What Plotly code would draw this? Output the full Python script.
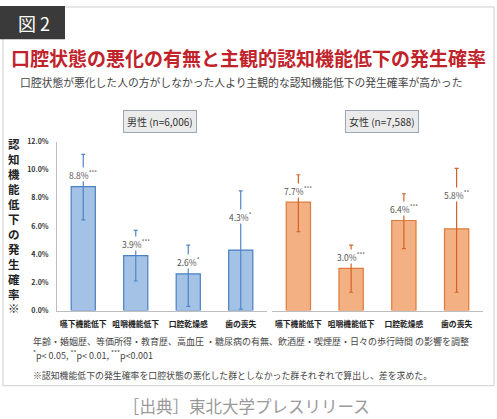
import plotly.graph_objects as go

# ---------------- data ----------------
categories = ["嚥下機能低下", "咀嚼機能低下", "口腔乾燥感", "歯の喪失"]
male_values = [8.8, 3.9, 2.6, 4.3]
male_upper = [11.1, 5.7, 4.65, 8.5]
male_lower = [6.45, 2.1, 0.3, 0.1]
male_sig = ["***", "***", "*", "*"]
female_values = [7.7, 3.0, 6.4, 5.8]
female_upper = [9.65, 4.65, 8.3, 10.1]
female_lower = [5.6, 1.3, 4.4, 1.3]
female_sig = ["***", "***", "***", "**"]
y_ticks = [0, 2, 4, 6, 8, 10, 12]
y_tick_labels = ["0.0%", "2.0%", "4.0%", "6.0%", "8.0%", "10.0%", "12.0%"]
male_label = "男性 (n=6,006)"
female_label = "女性 (n=7,588)"
y_title = "認知機能低下の発生確率※"
fig_no = "図 2"
title = "口腔状態の悪化の有無と主観的認知機能低下の発生確率"
subtitle = "口腔状態が悪化した人の方がしなかった人より主観的な認知機能低下の発生確率が高かった"
note1 = "年齢・婚姻歴、等価所得・教育歴、高血圧 ・糖尿病の有無、飲酒歴・喫煙歴・日々の歩行時間 の影響を調整"
note2 = "<sup>*</sup>p< 0.05, <sup>**</sup>p< 0.01, <sup>***</sup>p<0.001"
note3 = "※認知機能低下の発生確率を口腔状態の悪化した群としなかった群それぞれで算出し、差を求めた。"
source = "［出典］東北大学プレスリリース"
label_shift = [12, 12, 12, 34]

# ---------------- style ----------------
W, H = 497, 419
FONT = "Noto Sans CJK JP"


def px(x):
    return x / W


def py(y):
    return 1 - y / H


def note(x, y, text, size, color, xanchor="center", weight="normal", **kw):
    d = dict(x=px(x), y=py(y), xref="paper", yref="paper", xanchor=xanchor,
             yanchor="middle", text=text, showarrow=False,
             font=dict(family=FONT, size=size, color=color, weight=weight))
    d.update(kw)
    return d


fig = go.Figure()

fig.add_trace(go.Bar(
    x=categories, y=male_values, xaxis="x", yaxis="y", width=0.46,
    marker=dict(color="#a3c2e6", line=dict(color="#4a7fc0", width=1.2)),
    error_y=dict(type="data", symmetric=False,
                 array=[u - v for u, v in zip(male_upper, male_values)],
                 arrayminus=[v - l for v, l in zip(male_values, male_lower)],
                 color="#4f86c6", thickness=1.2, width=2),
    hoverinfo="skip", showlegend=False))

fig.add_trace(go.Bar(
    x=categories, y=female_values, xaxis="x2", yaxis="y2", width=0.46,
    marker=dict(color="#f2b083", line=dict(color="#dd7a3c", width=1.2)),
    error_y=dict(type="data", symmetric=False,
                 array=[u - v for u, v in zip(female_upper, female_values)],
                 arrayminus=[v - l for v, l in zip(female_values, female_lower)],
                 color="#d4622a", thickness=1.2, width=2),
    hoverinfo="skip", showlegend=False))

annotations = []
for cat, v, s, sh in zip(categories, male_values, male_sig, label_shift):
    annotations.append(dict(x=cat, y=v, xref="x", yref="y", yshift=sh,
                            xanchor="center", yanchor="middle",
                            text=f"{v:.1f}%<sup>{s}</sup>", showarrow=False,
                            bgcolor="white", borderpad=0,
                            font=dict(family=FONT, size=8.5, color="#555555")))
for cat, v, s, sh in zip(categories, female_values, female_sig, label_shift):
    annotations.append(dict(x=cat, y=v, xref="x2", yref="y2", yshift=sh,
                            xanchor="center", yanchor="middle",
                            text=f"{v:.1f}%<sup>{s}</sup>", showarrow=False,
                            bgcolor="white", borderpad=0,
                            font=dict(family=FONT, size=8.5, color="#555555")))

# panel labels
annotations.append(note(160, 118.5, male_label, 10, "#333333", bgcolor="#ebebeb",
                        bordercolor="#9aa7b8", borderwidth=1, borderpad=3))
annotations.append(note(382, 118.5, female_label, 10, "#333333", bgcolor="#ebebeb",
                        bordercolor="#9aa7b8", borderwidth=1, borderpad=3))

# vertical y title
annotations.append(note(14, 225, "<br>".join(list(y_title)), 11.5, "#222222", weight="bold"))

# header / title
annotations.append(note(34, 17, fig_no, 18, "white"))
annotations.append(note(249, 53, title, 19, "#c1232b", weight="bold"))
annotations.append(note(18, 78, subtitle, 10.8, "#444444", xanchor="left"))

# notes
annotations.append(note(31, 344, note1, 9, "#444444", xanchor="left"))
annotations.append(note(31, 358, note2, 9, "#444444", xanchor="left"))
annotations.append(note(31, 379, note3, 8.9, "#444444", xanchor="left"))
annotations.append(note(246, 410, source, 16.5, "#9a9a9a"))

shapes = [
    dict(type="rect", xref="paper", yref="paper", x0=px(3), x1=px(494), y0=py(389), y1=py(1),
         line=dict(color="#cfcfcf", width=1), fillcolor="rgba(0,0,0,0)", layer="below"),
    dict(type="rect", xref="paper", yref="paper", x0=px(0), x1=px(65), y0=py(34), y1=py(0),
         line=dict(width=0), fillcolor="#3a3a3a", layer="above"),
]

ydom = [py(312), py(139)]
tick_x = dict(family=FONT, size=7.8, color="#222222", weight="bold")
fig.update_layout(
    width=W, height=H, margin=dict(l=0, r=0, t=0, b=0),
    paper_bgcolor="white", plot_bgcolor="white",
    bargap=0.5, showlegend=False,
    annotations=annotations, shapes=shapes,
    xaxis=dict(domain=[px(57), px(267)], anchor="y", range=[-0.5, 3.5],
               showline=True, linecolor="#bdbdbd", linewidth=1, ticks="",
               showgrid=False, zeroline=False, fixedrange=True,
               ticklabelstandoff=6, tickfont=tick_x),
    xaxis2=dict(domain=[px(272), px(483)], anchor="y2", range=[-0.5, 3.5],
                showline=True, linecolor="#bdbdbd", linewidth=1, ticks="",
                showgrid=False, zeroline=False, fixedrange=True,
                ticklabelstandoff=6, tickfont=tick_x),
    yaxis=dict(domain=ydom, anchor="x", range=[0, 12], tickvals=y_ticks,
               ticktext=y_tick_labels, showline=True, linecolor="#bdbdbd", linewidth=1,
               showgrid=False, zeroline=False, ticks="", ticklabelstandoff=6,
               fixedrange=True,
               tickfont=dict(family=FONT, size=7, color="#333333", weight="bold")),
    yaxis2=dict(domain=ydom, anchor="x2", range=[0, 12], visible=False, fixedrange=True),
)

fig.write_html("out.html", config={"displayModeBar": False})
